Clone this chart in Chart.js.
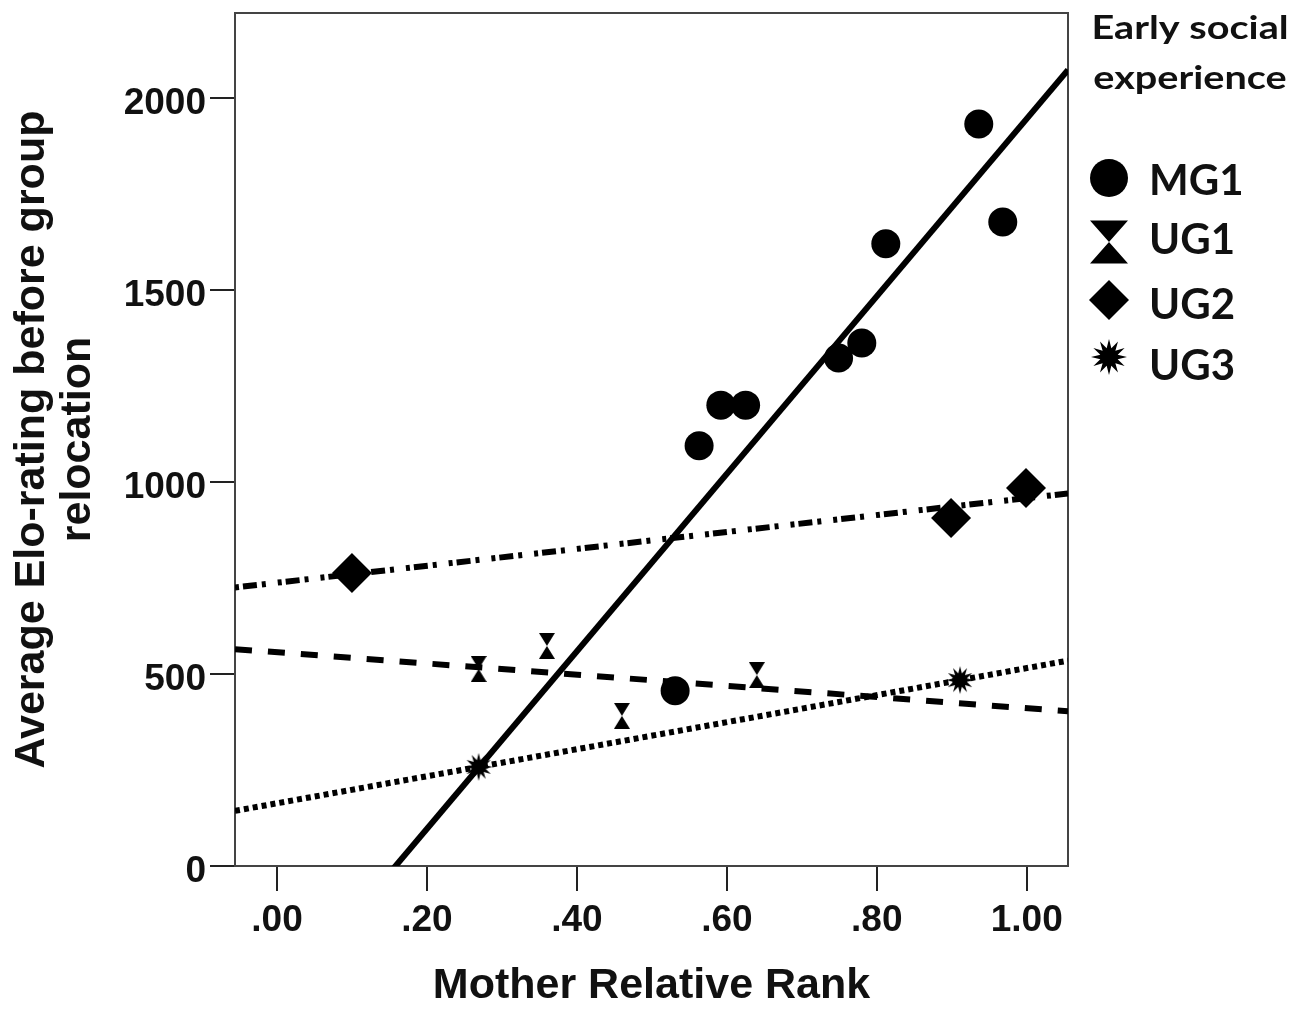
<!DOCTYPE html>
<html><head><meta charset="utf-8">
<script src="https://cdn.jsdelivr.net/npm/chart.js@4.4.0/dist/chart.umd.min.js"></script>
<style>html,body{margin:0;padding:0;background:#fff;overflow:hidden}#wrap{width:1316px;height:1009px}</style>
</head><body><div id="wrap"><canvas id="c" width="1316" height="1009"></canvas></div>
<script>
// ---- data ----
const seriesNames = ['MG1', 'UG1', 'UG2', 'UG3'];
const mg1X = [0.531, 0.563, 0.592, 0.625, 0.749, 0.780, 0.812, 0.936, 0.968];
const mg1Y = [456, 1094, 1200, 1200, 1323, 1362, 1620, 1932, 1677];
const ug1X = [0.269, 0.360, 0.460, 0.640];
const ug1Y = [513, 573, 391, 497];
const ug2X = [0.100, 0.899, 0.999];
const ug2Y = [763, 906, 984];
const ug3X = [0.269, 0.911];
const ug3Y = [258, 484];
const xTicks = [0, 0.2, 0.4, 0.6, 0.8, 1.0];
const xTickLabels = ['.00', '.20', '.40', '.60', '.80', '1.00'];
const yTicks = [0, 500, 1000, 1500, 2000];
const xRange = [-0.056, 1.055];
const yRange = [0, 2221];
const legendTitle = ['Early social', 'experience'];
const xTitle = 'Mother Relative Rank';
const yTitle = ['Average Elo-rating before group', 'relocation'];

// ---- marker shapes ----
function drawHourglass(ctx, cx, cy, w, h) {
  ctx.beginPath();
  ctx.moveTo(cx - w / 2, cy - h / 2); ctx.lineTo(cx + w / 2, cy - h / 2); ctx.lineTo(cx, cy); ctx.closePath();
  ctx.moveTo(cx - w / 2, cy + h / 2); ctx.lineTo(cx + w / 2, cy + h / 2); ctx.lineTo(cx, cy); ctx.closePath();
  ctx.fill();
}
function drawStar(ctx, cx, cy, R, n) {
  ctx.beginPath();
  for (let i = 0; i < 2 * n; i++) {
    const r = i % 2 ? R * 0.5 : R;
    const a = -Math.PI / 2 + i * Math.PI / n;
    ctx.lineTo(cx + r * Math.cos(a), cy + r * Math.sin(a));
  }
  ctx.closePath(); ctx.fill();
}
function drawDiamond(ctx, cx, cy, r) {
  ctx.beginPath();
  ctx.moveTo(cx, cy - r); ctx.lineTo(cx + r, cy); ctx.lineTo(cx, cy + r); ctx.lineTo(cx - r, cy); ctx.closePath();
  ctx.fill();
}
function makeImg(w, h, fn) {
  const c = document.createElement('canvas'); c.width = w; c.height = h;
  const g = c.getContext('2d'); g.fillStyle = '#000'; fn(g, w / 2, h / 2); return c;
}
const hourglassImg = makeImg(16, 26, (g, cx, cy) => drawHourglass(g, cx, cy, 16, 26));
const starImg = makeImg(30, 30, (g, cx, cy) => drawStar(g, cx, cy, 14, 12));

function pts(xs, ys) { return xs.map((x, i) => ({x: x, y: ys[i]})); }
function fitLine(xs, ys) {
  const n = xs.length;
  const mx = xs.reduce((a, b) => a + b, 0) / n, my = ys.reduce((a, b) => a + b, 0) / n;
  let sxy = 0, sxx = 0;
  for (let i = 0; i < n; i++) { sxy += (xs[i] - mx) * (ys[i] - my); sxx += (xs[i] - mx) ** 2; }
  const b = sxy / sxx, a = my - b * mx;
  return xRange.map(x => ({x: x, y: a + b * x}));
}

const lineBase = {type: 'line', borderColor: '#000', borderWidth: 6, pointRadius: 0, fill: false, clip: 0, tension: 0, borderCapStyle: 'butt'};
const datasets = [
  {type: 'scatter', label: seriesNames[0], data: pts(mg1X, mg1Y), pointStyle: 'circle', pointRadius: 14.5, backgroundColor: '#000', borderWidth: 0, order: 1, clip: false},
  {type: 'scatter', label: seriesNames[1], data: pts(ug1X, ug1Y), pointStyle: hourglassImg, pointRadius: 13, backgroundColor: '#000', borderWidth: 0, order: 1, clip: false},
  {type: 'scatter', label: seriesNames[2], data: pts(ug2X, ug2Y), pointStyle: 'rectRot', pointRadius: 20, backgroundColor: '#000', borderWidth: 0, order: 1, clip: false},
  {type: 'scatter', label: seriesNames[3], data: pts(ug3X, ug3Y), pointStyle: starImg, pointRadius: 14, backgroundColor: '#000', borderWidth: 0, order: 1, clip: false},
  Object.assign({}, lineBase, {label: 'fit MG1', data: fitLine(mg1X, mg1Y), order: 2}),
  Object.assign({}, lineBase, {label: 'fit UG1', data: fitLine(ug1X, ug1Y), borderDash: [17, 16], order: 2}),
  Object.assign({}, lineBase, {label: 'fit UG2', data: fitLine(ug2X, ug2Y), borderDash: [4, 4, 14, 5, 4, 12], order: 2}),
  Object.assign({}, lineBase, {label: 'fit UG3', data: fitLine(ug3X, ug3Y), borderDash: [5, 4], order: 2})
];

const framePlugin = {
  id: 'frame',
  beforeDatasetsDraw(chart) {
    const {ctx, chartArea: a} = chart;
    ctx.save(); ctx.strokeStyle = '#444'; ctx.lineWidth = 2;
    ctx.strokeRect(a.left, a.top, a.right - a.left, a.bottom - a.top);
    ctx.restore();
  }
};
const legendPlugin = {
  id: 'customLegend',
  afterDraw(chart) {
    const ctx = chart.ctx;
    ctx.save();
    ctx.fillStyle = '#111';
    ctx.textBaseline = 'alphabetic';
    ctx.font = 'bold 33px Lato';
    const tcx = 1190, tBase = [39, 89];
    legendTitle.forEach((t, i) => {
      ctx.save(); ctx.translate(tcx, tBase[i]); ctx.scale(1.2, 1);
      ctx.textAlign = 'center'; ctx.fillText(t, 0, 0); ctx.restore();
    });
    const items = chart.data.datasets.filter(d => d.type === 'scatter');
    const markerY = [178, 242, 300, 357];
    const textY = [195, 254, 319, 380];
    ctx.font = 'bold 42px Lato';
    ctx.textAlign = 'left';
    items.forEach((d, i) => {
      ctx.fillStyle = '#000';
      const mx = 1109, my = markerY[i];
      if (i === 0) { ctx.beginPath(); ctx.arc(mx, my, 19, 0, Math.PI * 2); ctx.fill(); }
      else if (i === 1) drawHourglass(ctx, mx, my, 38, 43);
      else if (i === 2) drawDiamond(ctx, mx, my, 20);
      else drawStar(ctx, mx, my, 18, 12);
      ctx.fillStyle = '#111';
      ctx.fillText(d.label, 1149, textY[i]);
    });
    ctx.restore();
  }
};

const tickFont = {family: "'Liberation Sans', Arial, sans-serif", weight: 'bold', size: 37};
const titleFont = {family: "'Liberation Sans', Arial, sans-serif", weight: 'bold', size: 43, lineHeight: 1.05};

new Chart(document.getElementById('c'), {
  data: {datasets: datasets},
  plugins: [framePlugin, legendPlugin],
  options: {
    responsive: false, animation: false, devicePixelRatio: 1,
    layout: {autoPadding: false, padding: {left: 0, right: 248, top: 13, bottom: 0}},
    plugins: {legend: {display: false}, tooltip: {enabled: false}},
    scales: {
      x: {
        type: 'linear', min: xRange[0], max: xRange[1],
        afterBuildTicks: s => { s.ticks = xTicks.map(v => ({value: v})); },
        afterFit: s => { s.height = 143; s.paddingLeft = 0; s.paddingRight = 0; },
        grid: {drawOnChartArea: false, drawTicks: true, tickLength: 25, color: '#222', lineWidth: 2},
        border: {display: true, color: '#222', width: 2},
        ticks: {callback: v => xTickLabels[xTicks.indexOf(v)], font: tickFont, color: '#111', padding: 8, maxRotation: 0, autoSkip: false},
        title: {display: true, text: xTitle, font: titleFont, color: '#111', padding: {top: 0, bottom: 0}}
      },
      y: {
        type: 'linear', min: yRange[0], max: yRange[1],
        afterBuildTicks: s => { s.ticks = yTicks.map(v => ({value: v})); },
        afterFit: s => { s.width = 235; s.paddingTop = 0; s.paddingBottom = 0; },
        grid: {drawOnChartArea: false, drawTicks: true, tickLength: 25, color: '#222', lineWidth: 2},
        border: {display: true, color: '#222', width: 2},
        ticks: {callback: v => String(v), font: tickFont, color: '#111', padding: 4, labelOffset: 6, autoSkip: false},
        title: {display: true, text: yTitle, font: titleFont, color: '#111', padding: {top: 10, bottom: 0}}
      }
    }
  }
});
</script></body></html>
